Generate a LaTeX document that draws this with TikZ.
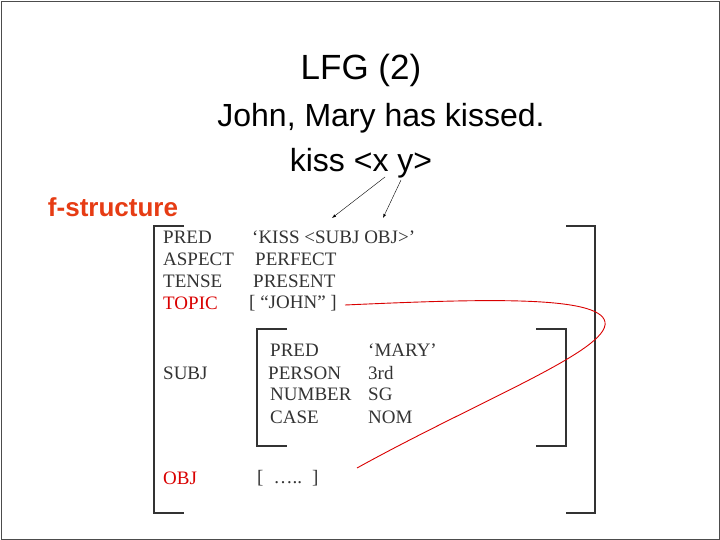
\documentclass[tikz,border=0pt]{standalone}
\usepackage{fontspec}
\setmainfont{Liberation Serif}
\newfontfamily\arial{Liberation Sans}
\begin{document}
\begin{tikzpicture}[x=1pt,y=-1pt,
  fs/.style={anchor=west,inner sep=0pt,text=black!80,font=\fontsize{19}{19}\selectfont},
  fsred/.style={fs,text=red!85!black},
  brk/.style={line width=1.6pt,black!80},
  big/.style={inner sep=0pt,font=\arial\fontsize{32}{32}\selectfont}]
\useasboundingbox (0,0) rectangle (720,540);
\draw[black!70,line width=0.8pt] (1,1) rectangle (719,539);
\node[big,font=\arial\fontsize{35}{35}\selectfont] (title) at (361,70) {LFG (2)};
\node[big] (sent) at (381,118) {John, Mary has kissed.};
\node[big] (kiss) at (361,163) {kiss <x y>};
\node[inner sep=0pt,text={rgb,255:red,230;green,60;blue,20},font=\arial\bfseries\fontsize{26}{26}\selectfont] (fst) at (113,207) {f-structure};
\coordinate (ax) at (385,177); \coordinate (ay) at (401,180);
\coordinate (tx) at (332,218); \coordinate (ty) at (383,218);
\draw[-latex,thin] (ax) -- (tx);
\draw[-latex,thin] (ay) -- (ty);
% outer brackets
\draw[brk] (184,226) -- (154,226) -- (154,513) -- (184,513);
\draw[brk] (566,226) -- (595,226) -- (595,513) -- (566,513);
% inner brackets
\draw[brk] (287,329) -- (257,329) -- (257,446) -- (287,446);
\draw[brk] (536,329) -- (566,329) -- (566,446) -- (536,446);
% outer rows
\node[fs] (a1) at (163,237) {PRED};
\node[fs] (a2) at (163,259) {ASPECT};
\node[fs] (a3) at (163,281) {TENSE};
\node[fsred] (a4) at (163,303) {TOPIC};
\node[fs] (a5) at (163,373) {SUBJ};
\node[fsred] (a6) at (163,478) {OBJ};
\node[fs] (v1) at (252,237) {‘KISS <SUBJ OBJ>’};
\node[fs] (v2) at (255,259) {PERFECT};
\node[fs] (v3) at (253,281) {PRESENT};
\node[fs] (v4) at (249,303) {[ “JOHN” ]};
\node[fs] (v6) at (257,478) {[\hspace{10pt}…..\hspace{10pt}]};
% inner rows
\node[fs] (b1) at (270,350) {PRED};
\node[fs] (b2) at (268,373) {PERSON};
\node[fs] (b3) at (270,394) {NUMBER};
\node[fs] (b4) at (270,417) {CASE};
\node[fs] (c1) at (368,350) {‘MARY’};
\node[fs] (c2) at (368,373) {3rd};
\node[fs] (c3) at (368,394) {SG};
\node[fs] (c4) at (368,417) {NOM};
% red link
\coordinate (r1) at (345,305); \coordinate (r2) at (357,468);
\draw[red!85!black,line width=0.9pt] (r1) .. controls (480,299) and (600,295) .. (605,322)
  .. controls (610,350) and (480,400) .. (r2);
\end{tikzpicture}
\end{document}
